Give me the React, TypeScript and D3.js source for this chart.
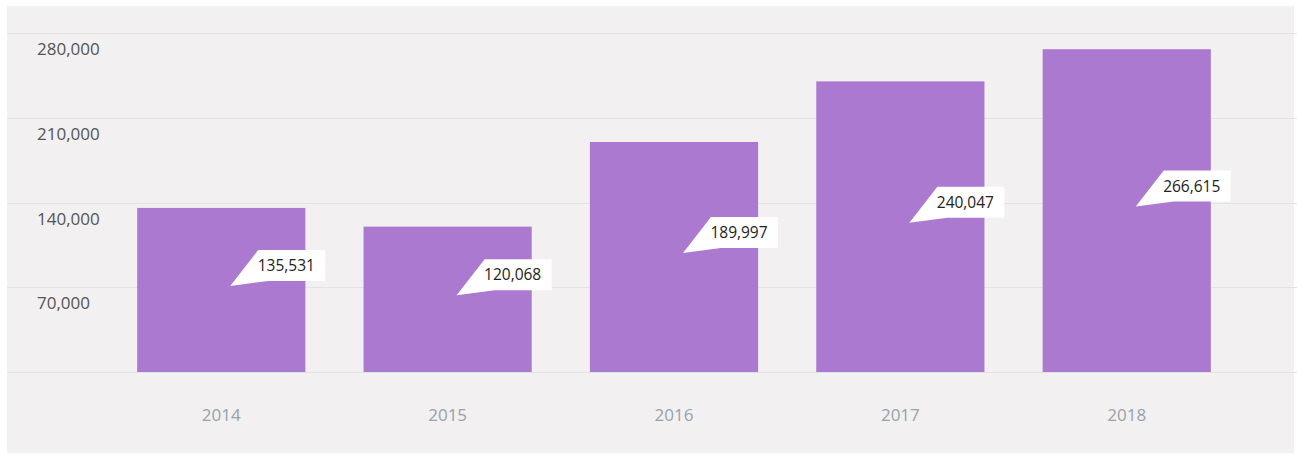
import React, {useEffect, useRef} from 'react'
import * as d3 from 'd3';

const years = ['2014', '2015', '2016', '2017', '2018'];
const values = [135531, 120068, 189997, 240047, 266615];
const yTicks = [0, 70000, 140000, 210000, 280000];

export default function App(){
    const svgRef = useRef<SVGSVGElement>(null);

    const width = 1297;
    const height = 454;
    const margin = {top: 33, bottom: 82, left: 79, right: 28};

    useEffect(() => {
        const svg = d3.select(svgRef.current);
        svg.selectAll("*").remove();

        const data = years.map((y, i) => ({year: y, value: values[i]}));

        const xscale = d3.scaleBand()
            .domain(years)
            .range([margin.left, width - margin.right])
            .padding(0.257);

        const yscale = d3.scaleLinear()
            .domain([0, 280000])
            .range([height - margin.bottom, margin.top]);

        // card background
        svg.append('rect')
            .attr('x', 7).attr('y', 6)
            .attr('width', 1287).attr('height', 447)
            .attr('fill', '#f2f0f1');

        // gridlines
        svg.append('g')
            .selectAll('line')
            .data(yTicks)
            .join('line')
            .attr('x1', 7).attr('x2', width)
            .attr('y1', d => Math.round(yscale(d)) + 0.5)
            .attr('y2', d => Math.round(yscale(d)) + 0.5)
            .attr('stroke', '#e2e3e6')
            .attr('stroke-width', 1);

        // y labels sit under their gridline
        svg.append('g')
            .selectAll('text')
            .data(yTicks.filter(d => d > 0))
            .join('text')
            .attr('x', 37)
            .attr('y', d => yscale(d) + 22)
            .attr('font-family', '"Open Sans", sans-serif')
            .attr('font-size', '17px')
            .attr('fill', '#555')
            .text(d => d3.format(',')(d));

        // bars
        svg.append('g')
            .selectAll('rect')
            .data(data)
            .join('rect')
            .attr('x', d => xscale(d.year)!)
            .attr('y', d => yscale(d.value))
            .attr('width', xscale.bandwidth())
            .attr('height', d => yscale(0) - yscale(d.value))
            .attr('fill', '#ab7ad0');

        // x labels
        svg.append('g')
            .selectAll('text')
            .data(years)
            .join('text')
            .attr('x', d => xscale(d)! + xscale.bandwidth() / 2)
            .attr('y', 421)
            .attr('text-anchor', 'middle')
            .attr('font-family', '"Open Sans", sans-serif')
            .attr('font-size', '17px')
            .attr('fill', '#98a2a8')
            .text(d => d);

        // callout value labels
        const labels = svg.append('g')
            .selectAll('g')
            .data(data)
            .join('g')
            .attr('transform', d => {
                const tx = xscale(d.year)! + xscale.bandwidth() / 2 + 9;
                const ty = (yscale(d.value) + yscale(0)) / 2 - 4;
                return `translate(${tx},${ty})`;
            });

        const bw = 67, bh = 31, dx = 28, dy = 36;
        labels.append('path')
            .attr('d', `M0,0 L${dx},${-dy} L${dx + bw},${-dy} L${dx + bw},${-dy + bh} L${dx + 10},${-dy + bh} Z`)
            .attr('fill', '#fff');

        labels.append('text')
            .attr('x', dx + 28)
            .attr('y', -dy + bh / 2 + 5.5)
            .attr('text-anchor', 'middle')
            .attr('font-family', '"Open Sans", sans-serif')
            .attr('font-size', '15.5px')
            .attr('fill', '#222')
            .text(d => d3.format(',')(d.value));
    });

    return (
        <svg
            ref={svgRef}
            width={width}
            height={height}
            style={{position: 'absolute', left: 0, top: 0, background: '#fff'}}
        >
        </svg>
    );
}
